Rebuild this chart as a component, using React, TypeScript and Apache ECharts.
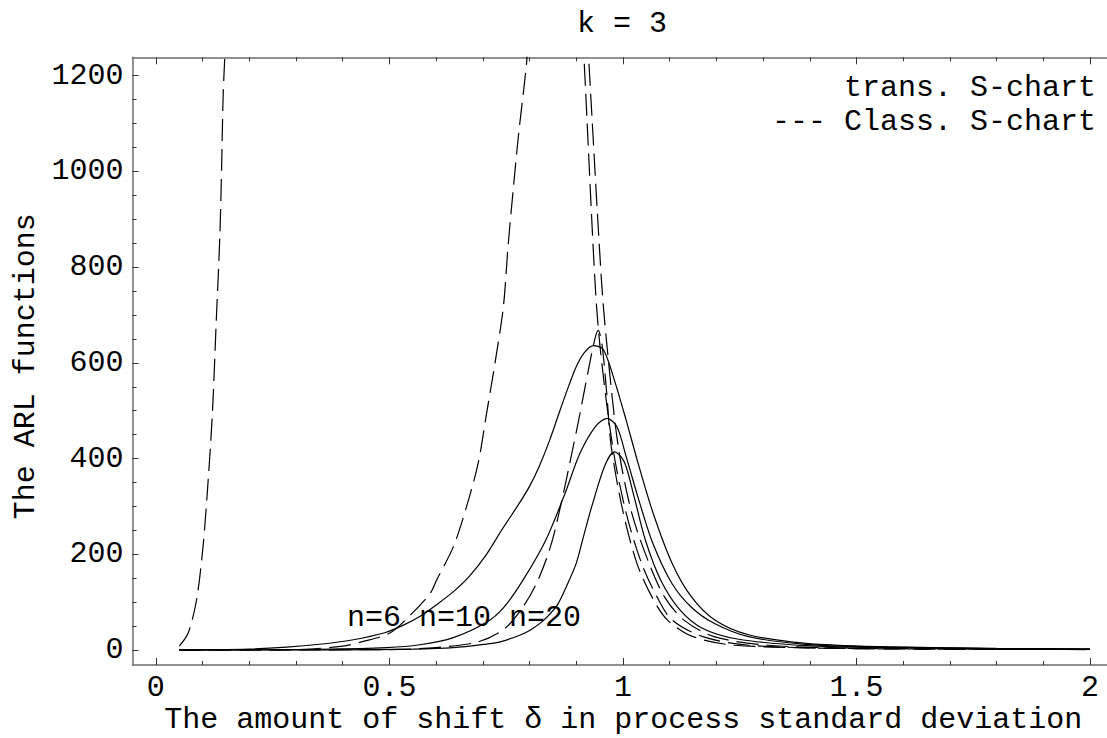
import React, { useEffect, useRef } from 'react';
import * as echarts from 'echarts';

const FONT = "'Liberation Mono', 'Courier New', Courier, monospace";

// Axis ranges and ticks
const xRange = [-0.05, 2.0364];
const yRange = [-31.3, 1238.5];
const xMajorTicks = [0, 0.5, 1, 1.5, 2];
const xMinorTicks = [0.1, 0.2, 0.3, 0.4, 0.6, 0.7, 0.8, 0.9, 1.1, 1.2, 1.3, 1.4, 1.6, 1.7, 1.8, 1.9];
const yMajorTicks = [0, 200, 400, 600, 800, 1000, 1200];
const yMinorTicks = [50, 100, 150, 250, 300, 350, 450, 500, 550, 650, 700, 750, 850, 900, 950, 1050, 1100, 1150];

const titleText = 'k = 3';
const xAxisTitle = 'The amount of shift \u03b4 in process standard deviation';
const yAxisTitle = 'The ARL functions';
const legendLines = ['trans. S-chart', '--- Class. S-chart'];
const curveLabels = ['n=6', 'n=10', 'n=20'];

// Transformed S-chart (solid)
const transN6 = [
  [0.05, 0], [0.1, 0.5], [0.2, 2], [0.28, 6], [0.35, 12], [0.42, 21], [0.49, 36], [0.53, 52],
  [0.565, 70], [0.6, 94], [0.637, 122], [0.672, 155], [0.708, 200], [0.74, 250], [0.779, 308],
  [0.8, 342], [0.82, 382], [0.843, 438], [0.865, 500], [0.884, 552], [0.9, 592], [0.917, 621],
  [0.937, 636], [0.958, 628], [0.982, 563], [1.007, 480], [1.032, 392], [1.064, 288], [1.105, 182],
  [1.146, 112], [1.195, 64], [1.269, 32], [1.392, 14], [1.556, 7], [1.8, 3.5], [2.0, 2],
];
const transN10 = [
  [0.05, 0], [0.2, 0.5], [0.35, 1.5], [0.494, 5], [0.565, 11], [0.637, 26], [0.708, 58], [0.744, 88],
  [0.786, 146], [0.835, 230], [0.876, 327], [0.908, 411], [0.941, 467], [0.966, 484], [0.987, 467],
  [1.007, 404], [1.032, 320], [1.064, 223], [1.105, 139], [1.146, 90], [1.195, 56], [1.269, 28],
  [1.392, 12], [1.556, 6], [1.8, 3], [2.0, 2],
];
const transN20 = [
  [0.05, 0], [0.4, 0.5], [0.55, 2], [0.637, 5], [0.708, 12.5], [0.737, 17], [0.779, 31], [0.802, 42],
  [0.83, 62], [0.86, 95], [0.88, 135], [0.9, 181], [0.915, 235], [0.933, 299], [0.962, 387],
  [0.982, 414], [1.003, 393], [1.024, 320], [1.048, 230], [1.081, 146], [1.122, 84], [1.171, 45],
  [1.245, 23], [1.392, 9], [1.556, 5], [1.8, 2.5], [2.0, 1.5],
];

// Classical S-chart (dashed)
const classN6Left = [
  [0.05, 8], [0.069, 35], [0.087, 104], [0.101, 216], [0.112, 355], [0.121, 494], [0.13, 703],
  [0.137, 864], [0.141, 1017], [0.144, 1156], [0.148, 1250], [0.152, 1350],
];
const classN6Right = [
  [0.92, 1350], [0.927, 1230], [0.954, 773], [0.966, 634], [0.99, 425], [1.019, 286], [1.056, 181],
  [1.089, 111], [1.13, 63], [1.195, 28], [1.31, 10], [1.5, 4], [2.0, 1.5],
];
const classN10Left = [
  [0.05, 0], [0.3, 1], [0.4, 8], [0.44, 17], [0.5, 35], [0.544, 72], [0.587, 118], [0.601, 146],
  [0.637, 216], [0.665, 299], [0.69, 390], [0.708, 494], [0.726, 599], [0.744, 717], [0.754, 843],
  [0.765, 961], [0.776, 1072], [0.794, 1230], [0.8, 1330],
];
const classN10Right = [
  [0.91, 1350], [0.917, 1230], [0.94, 773], [0.951, 634], [0.978, 425], [1.007, 286], [1.04, 181],
  [1.073, 111], [1.105, 63], [1.171, 28], [1.269, 10], [1.5, 3], [2.0, 1.2],
];
const classN20 = [
  [0.05, 0], [0.5, 1], [0.6, 5], [0.69, 17], [0.745, 43], [0.786, 90], [0.82, 150], [0.851, 237],
  [0.9, 455], [0.925, 580], [0.94, 650], [0.947, 668], [0.955, 640], [0.965, 540], [0.975, 425],
  [1.0, 290], [1.03, 181], [1.062, 111], [1.095, 63], [1.15, 28], [1.24, 10], [1.5, 3], [2.0, 1],
];

const textStyle = { fontFamily: FONT, fontSize: 30, color: '#000', fontWeight: 'normal' as const };
const axisLineColor = '#6e6e6e';
const tickColor = '#333';

function fmt(v: number) {
  return String(v);
}

function lineSeries(name: string, data: number[][], dashed: boolean) {
  return {
    name,
    type: 'line',
    data,
    showSymbol: false,
    symbol: 'none',
    smooth: 0.3,
    xAxisIndex: 0,
    yAxisIndex: 0,
    lineStyle: {
      color: '#000',
      width: 1.2,
      type: dashed ? [22, 8] : 'solid',
    },
    silent: true,
    z: 3,
  };
}

function tickAxis(kind: 'x' | 'y', gridIndex: number, position: string, ticks: number[], length: number, showLine: boolean) {
  const range = kind === 'x' ? xRange : yRange;
  return {
    type: 'value',
    gridIndex,
    position,
    min: range[0],
    max: range[1],
    axisLine: { show: showLine, onZero: false, lineStyle: { color: axisLineColor, width: 1.5 } },
    axisTick: { show: true, inside: true, length, customValues: ticks, lineStyle: { color: tickColor, width: 1 } },
    axisLabel: { show: false },
    splitLine: { show: false },
    splitArea: { show: false },
    minorTick: { show: false },
    minorSplitLine: { show: false },
  };
}

export default function App() {
  const ref = useRef<HTMLDivElement>(null);
  useEffect(() => {
    const chart = echarts.init(ref.current!, null, { renderer: 'svg' });
    const gridRect = { left: 132.5, right: 0, top: 57.3, bottom: 73, outerBoundsMode: 'none', containLabel: false, show: false };
    const option: any = {
      animation: false,
      backgroundColor: '#fff',
      title: {
        text: titleText,
        left: 622,
        top: 9,
        textAlign: 'center',
        padding: 0,
        textStyle: { ...textStyle },
      },
      grid: [{ ...gridRect }, { ...gridRect }],
      xAxis: [
        {
          ...tickAxis('x', 0, 'bottom', xMajorTicks, 7, true),
          axisLabel: { show: true, customValues: xMajorTicks, formatter: fmt, margin: 8, ...textStyle },
          name: xAxisTitle,
          nameLocation: 'middle',
          nameGap: 40,
          nameMoveOverlap: false,
          nameTextStyle: { ...textStyle, lineHeight: 30, padding: [0, 0, 0, 7] },
        },
        tickAxis('x', 0, 'top', xMajorTicks, 7, true),
        tickAxis('x', 1, 'bottom', xMinorTicks, 4, false),
        tickAxis('x', 1, 'top', xMinorTicks, 4, false),
      ],
      yAxis: [
        {
          ...tickAxis('y', 0, 'left', yMajorTicks, 6, true),
          axisLabel: { show: true, customValues: yMajorTicks, formatter: fmt, margin: 9, ...textStyle },
          name: yAxisTitle,
          nameLocation: 'middle',
          nameGap: 92,
          nameMoveOverlap: false,
          nameTextStyle: { ...textStyle, lineHeight: 30, padding: [0, 10, 0, 0] },
        },
        tickAxis('y', 1, 'left', yMinorTicks, 4, false),
      ],
      graphic: [
        {
          type: 'text', x: 1096, y: 87.5,
          style: { text: legendLines[0], textAlign: 'right', textVerticalAlign: 'middle', font: `30px ${FONT}`, fill: '#000' },
        },
        {
          type: 'text', x: 1096, y: 121.5,
          style: { text: legendLines[1], textAlign: 'right', textVerticalAlign: 'middle', font: `30px ${FONT}`, fill: '#000' },
        },
        {
          type: 'text', x: 347, y: 618,
          style: { text: curveLabels.join(' '), textAlign: 'left', textVerticalAlign: 'middle', font: `30px ${FONT}`, fill: '#000' },
          z: 10,
        },
      ],
      series: [
        lineSeries('trans. S-chart n=6', transN6, false),
        lineSeries('trans. S-chart n=10', transN10, false),
        lineSeries('trans. S-chart n=20', transN20, false),
        lineSeries('Class. S-chart n=6', classN6Left, true),
        lineSeries('Class. S-chart n=6 ', classN6Right, true),
        lineSeries('Class. S-chart n=10', classN10Left, true),
        lineSeries('Class. S-chart n=10 ', classN10Right, true),
        lineSeries('Class. S-chart n=20', classN20, true),
      ],
    };
    chart.setOption(option);
    return () => chart.dispose();
  }, []);
  return (
    <div
      ref={ref}
      style={{ position: 'fixed', left: 0, top: 0, width: 1107, height: 738, background: '#fff' }}
    />
  );
}
